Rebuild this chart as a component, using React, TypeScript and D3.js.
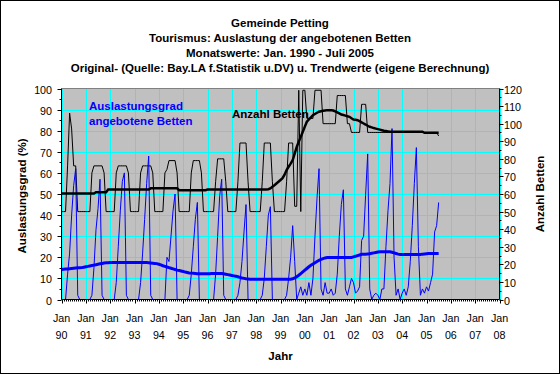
import * as d3 from 'd3';

const TITLE_LINES = [
  'Gemeinde Petting',
  'Tourismus: Auslastung der angebotenen Betten',
  'Monatswerte: Jan. 1990 - Juli 2005',
  'Original- (Quelle: Bay.LA f.Statistik u.DV) u. Trendwerte (eigene Berechnung)',
];

// x axis: one label pair per January, 1990 .. 2008
const YEAR_LABELS = ['90', '91', '92', '93', '94', '95', '96', '97', '98', '99', '00', '01', '02', '03', '04', '05', '06', '07', '08'];

// Auslastungsgrad (%), monthly Jan 1990 - Jul 2005
const AUSLASTUNG = [
  0, 0, 0, 12, 22, 40, 54, 62, 2, 0, 0, 0, // 1990
  0, 0, 0, 2, 15, 33, 43, 57, 2, 0, 0, 0, // 1991
  0, 0, 0, 8, 25, 42, 56, 60, 2, 0, 0, 0, // 1992
  0, 0, 0, 8, 22, 38, 55, 68, 2, 0, 0, 0, // 1993
  0, 0, 0, 0, 20, 18, 30, 42, 50, 0, 0, 0, // 1994
  0, 0, 0, 2, 12, 25, 38, 46, 0, 0, 0, 0, // 1995
  0, 0, 0, 0, 12, 30, 49, 57, 2, 0, 0, 0, // 1996
  0, 0, 0, 2, 8, 18, 32, 45, 0, 0, 0, 0, // 1997
  0, 0, 0, 2, 10, 25, 40, 44, 0, 0, 0, 0, // 1998
  0, 0, 0, 2, 10, 20, 35, 18, 0, 3, 6, 2, // 1999
  5, 2, 8, 2, 10, 30, 48, 62, 5, 2, 8, 3, // 2000
  3, 5, 2, 3, 12, 30, 45, 52, 5, 2, 6, 10, // 2001
  8, 3, 4, 6, 28, 30, 50, 69, 5, 0, 2, 3, // 2002
  2, 0, 5, 5, 25, 42, 55, 81, 20, 2, 5, 0, // 2003
  3, 5, 2, 6, 18, 35, 55, 72, 25, 2, 5, 3, // 2004
  6, 4, 8, 12, 32, 35, 46, // 2005
];

// Trend of Auslastungsgrad (%)
const AUSLASTUNG_TREND = [
  14.2, 14.3, 14.4, 14.5, 14.6, 14.7, 14.8, 14.9, 15.0, 15.0, 15.1, 15.3,
  15.5, 15.7, 15.9, 16.1, 16.3, 16.5, 16.7, 16.9, 17.1, 17.3, 17.4, 17.4,
  17.5, 17.5, 17.5, 17.5, 17.5, 17.5, 17.5, 17.5, 17.5, 17.5, 17.5, 17.5,
  17.5, 17.5, 17.5, 17.5, 17.5, 17.5, 17.5, 17.4, 17.3, 17.2, 17.1, 17.0,
  16.7, 16.4, 16.0, 15.7, 15.4, 15.1, 14.8, 14.5, 14.2, 13.9, 13.7, 13.5,
  13.3, 13.0, 12.8, 12.6, 12.5, 12.4, 12.3, 12.2, 12.2, 12.2, 12.2, 12.2,
  12.2, 12.2, 12.3, 12.3, 12.3, 12.3, 12.3, 12.3, 12.2, 12.0, 11.8, 11.6,
  11.4, 11.2, 11.0, 10.8, 10.5, 10.2, 10.0, 9.8, 9.7, 9.6, 9.6, 9.6,
  9.6, 9.6, 9.6, 9.6, 9.6, 9.6, 9.6, 9.6, 9.6, 9.6, 9.6, 9.6,
  9.6, 9.6, 9.6, 9.6, 9.6, 9.6, 9.8, 10.2, 10.8, 11.5, 12.3, 13.1,
  13.9, 14.7, 15.5, 16.2, 16.8, 17.4, 18.0, 18.6, 19.0, 19.4, 19.7, 19.9,
  19.9, 19.9, 19.9, 19.9, 19.9, 19.9, 19.9, 19.9, 19.9, 19.9, 19.9, 19.9,
  20.2, 20.5, 20.8, 21.1, 21.4, 21.5, 21.5, 21.6, 21.7, 21.9, 22.1, 22.3,
  22.5, 22.6, 22.6, 22.6, 22.6, 22.6, 22.6, 22.4, 22.1, 21.8, 21.5, 21.3,
  21.3, 21.3, 21.3, 21.3, 21.3, 21.3, 21.3, 21.3, 21.3, 21.3, 21.5, 21.6,
  21.7, 21.8, 21.8, 21.8, 21.8, 21.8, 21.8,
];

// Anzahl angebotene Betten, monthly
const BETTEN = [
  50, 50, 50, 76, 106, 97, 76, 76, 50, 50, 50, 50, // 1990
  50, 50, 50, 72, 76, 76, 76, 76, 76, 72, 50, 50, // 1991
  50, 50, 50, 72, 76, 76, 76, 76, 76, 72, 50, 50, // 1992
  50, 50, 50, 72, 76, 76, 76, 76, 76, 72, 50, 50, // 1993
  50, 50, 50, 72, 74, 79, 79, 79, 79, 72, 50, 50, // 1994
  50, 50, 50, 50, 72, 79, 79, 79, 79, 72, 50, 50, // 1995
  50, 50, 50, 50, 67, 80, 80, 80, 80, 67, 50, 50, // 1996
  50, 50, 50, 67, 89, 89, 89, 89, 67, 50, 50, 50, // 1997
  50, 50, 50, 67, 89, 89, 89, 89, 67, 50, 50, 50, // 1998
  50, 50, 50, 67, 89, 89, 89, 53, 53, 119, 50, 119, // 1999
  119, 103, 103, 103, 103, 119, 119, 119, 119, 100, 100, 100, // 2000
  100, 100, 100, 100, 116, 116, 116, 116, 116, 100, 100, 95, // 2001
  95, 95, 95, 95, 111, 111, 111, 95, 95, 95, 95, 95, // 2002
  95, 95, 95, 95, 95, 95, 95, 95, 95, 95, 95, 95, // 2003
  95, 95, 95, 95, 95, 95, 95, 95, 95, 95, 95, 95, // 2004
  95, 95, 95, 95, 95, 95, 93, // 2005
];

// Trend of Anzahl Betten
const BETTEN_TREND = [
  60.3, 60.3, 60.3, 60.3, 60.3, 60.3, 60.3, 60.3, 60.3, 60.3, 60.3, 60.3,
  60.3, 60.3, 60.3, 60.3, 60.3, 61, 61, 61, 61, 61, 61, 62.5,
  62.5, 62.5, 62.5, 62.5, 62.5, 62.5, 62.5, 62.5, 62.5, 62.5, 62.5, 62.5,
  62.5, 62.5, 62.5, 62.5, 62.5, 62.5, 62.5, 62.5, 63.2, 63.2, 63.2, 63.2,
  63.2, 63.2, 63.2, 63.2, 63.2, 63.2, 63.2, 63.2, 63.2, 63.2, 62.2, 62.2,
  62.2, 62.2, 62.2, 62.2, 62.2, 62.2, 62.2, 62.2, 62.2, 62.2, 62.2, 62.2,
  62.5, 62.5, 62.5, 62.5, 62.5, 62.5, 62.5, 62.5, 62.5, 62.5, 62.5, 62.5,
  62.5, 62.5, 62.5, 62.5, 62.5, 62.5, 62.5, 62.5, 62.5, 62.5, 62.5, 62.5,
  62.5, 62.5, 62.5, 62.5, 62.5, 62.5, 62.7, 63.2, 64.1, 65, 66, 67,
  68, 69, 71, 73.6, 75.5, 77.3, 79.2, 83, 86.8, 89.7, 92.5, 95.4,
  98.3, 101.1, 102.4, 103.6, 104.8, 105.5, 106.2, 106.8, 107.1, 107.3, 107.5, 107.7,
  107.7, 107.6, 107.5, 107, 106.4, 105.8, 105.2, 104.9, 104.6, 104.2, 103.9, 103.1,
  102.4, 102.2, 102, 101.4, 100.7, 100.1, 99.5, 98.8, 98.2, 97.9, 97.5, 97.2,
  96.9, 96.6, 96.3, 96.0, 95.8, 95.6, 95.4, 95.4, 95.4, 95.4, 95.4, 95.4,
  95.4, 95.4, 95.4, 95.4, 95.4, 95.4, 95.4, 95.4, 95.4, 95.4, 95.4, 94.8,
  94.8, 94.8, 94.8, 94.8, 94.8, 94.8, 94.8,
];

const W = 560;
const H = 374;
const PLOT = { left: 61.5, right: 499.5, top: 88.5, bottom: 299.5 };
const FONT = 'Arial, "Liberation Sans", sans-serif';
const GRID = '#00ffff';
const BLUE = '#0000ff';

export default function App() {
  const nMonths = (YEAR_LABELS.length - 1) * 12;
  const x = d3.scaleLinear().domain([0, nMonths]).range([PLOT.left, PLOT.right]);
  const yL = d3.scaleLinear().domain([0, 100]).range([PLOT.bottom, PLOT.top]);
  const yR = d3.scaleLinear().domain([0, 120]).range([PLOT.bottom, PLOT.top]);

  const lineL = d3.line<number>().x((_, i) => x(i)).y((d) => yL(d));
  const lineR = d3.line<number>().x((_, i) => x(i)).y((d) => yR(d));

  const leftTicks = yL.ticks(10);
  const rightTicks = yR.ticks(12);
  const months = d3.range(0, nMonths + 1);

  return (
    <svg width={W} height={H} style={{ position: 'absolute', left: 0, top: 0 }} fontFamily={FONT}>
      <rect x={0.5} y={0.5} width={W - 1} height={H - 1} fill="#fff" stroke="#000" />

      {/* titles */}
      {TITLE_LINES.map((t, i) => (
        <text key={t} x={280} y={27 + i * 15} textAnchor="middle" fontSize={11.5} fontWeight="bold">
          {t}
        </text>
      ))}

      {/* plot area */}
      <rect x={PLOT.left} y={PLOT.top} width={PLOT.right - PLOT.left} height={PLOT.bottom - PLOT.top} fill="#c0c0c0" />

      {/* grid */}
      {leftTicks.filter((t) => t > 0 && t < 100).map((t) => (
        <line key={'h' + t} x1={PLOT.left} x2={PLOT.right} y1={Math.round(yL(t)) + 0.5} y2={Math.round(yL(t)) + 0.5} stroke={GRID} />
      ))}
      {YEAR_LABELS.map((_, k) => (
        <line key={'v' + k} x1={Math.round(x(k * 12)) + 0.5} x2={Math.round(x(k * 12)) + 0.5} y1={PLOT.top} y2={PLOT.bottom} stroke={GRID} />
      ))}
      <line x1={PLOT.left} x2={PLOT.right} y1={PLOT.top} y2={PLOT.top} stroke="#808080" />

      {/* series */}
      <path d={lineR(BETTEN) ?? ''} fill="none" stroke="#000" strokeWidth={1} />
      <path d={lineL(AUSLASTUNG) ?? ''} fill="none" stroke={BLUE} strokeWidth={1} />
      <path d={lineL(AUSLASTUNG_TREND) ?? ''} fill="none" stroke={BLUE} strokeWidth={3} />
      <path d={lineR(BETTEN_TREND) ?? ''} fill="none" stroke="#000" strokeWidth={2.5} />

      {/* series labels */}
      <text x={89} y={110} fontSize={11.5} fontWeight="bold" fill={BLUE}>Auslastungsgrad</text>
      <text x={89} y={125} fontSize={11.5} fontWeight="bold" fill={BLUE}>angebotene Betten</text>
      <text x={232} y={118} fontSize={11.5} fontWeight="bold" fill="#000">Anzahl Betten</text>

      {/* axes */}
      <line x1={PLOT.left} x2={PLOT.left} y1={PLOT.top} y2={PLOT.bottom} stroke="#000" />
      <line x1={PLOT.right} x2={PLOT.right} y1={PLOT.top} y2={PLOT.bottom} stroke="#000" />
      <line x1={PLOT.left} x2={PLOT.right} y1={PLOT.bottom} y2={PLOT.bottom} stroke="#000" />

      {/* left ticks + labels */}
      {leftTicks.map((t) => {
        const yy = Math.round(yL(t)) + 0.5;
        return (
          <g key={'lt' + t}>
            <line x1={PLOT.left - 4} x2={PLOT.left} y1={yy} y2={yy} stroke="#000" />
            <text x={52} y={yy} textAnchor="end" dominantBaseline="central" fontSize={10.7}>{t}</text>
          </g>
        );
      })}
      {leftTicks.slice(0, -1).map((t) => {
        const yy = Math.round(yL(t + 5)) + 0.5;
        return <line key={'lm' + t} x1={PLOT.left - 2} x2={PLOT.left} y1={yy} y2={yy} stroke="#000" />;
      })}

      {/* right ticks + labels */}
      {rightTicks.map((t) => {
        const yy = Math.round(yR(t)) + 0.5;
        return (
          <g key={'rt' + t}>
            <line x1={PLOT.right} x2={PLOT.right + 4} y1={yy} y2={yy} stroke="#000" />
            <text x={504} y={yy} textAnchor="start" dominantBaseline="central" fontSize={10.7}>{t}</text>
          </g>
        );
      })}
      {rightTicks.slice(0, -1).map((t) => {
        const yy = Math.round(yR(t + 5)) + 0.5;
        return <line key={'rm' + t} x1={PLOT.right} x2={PLOT.right + 2} y1={yy} y2={yy} stroke="#000" />;
      })}

      {/* x ticks */}
      {months.map((m) => {
        const xx = Math.round(x(m)) + 0.5;
        const major = m % 12 === 0;
        return <line key={'xt' + m} x1={xx} x2={xx} y1={PLOT.bottom} y2={PLOT.bottom + (major ? 4 : 2)} stroke="#000" />;
      })}
      {YEAR_LABELS.map((lab, k) => (
        <g key={'xl' + k}>
          <text x={x(k * 12)} y={322} textAnchor="middle" fontSize={10.7}>Jan</text>
          <text x={x(k * 12)} y={339} textAnchor="middle" fontSize={10.7}>{lab}</text>
        </g>
      ))}

      {/* axis titles */}
      <text x={280.5} y={360} textAnchor="middle" fontSize={11.5} fontWeight="bold">Jahr</text>
      <text transform="translate(22,196) rotate(-90)" textAnchor="middle" dominantBaseline="central" fontSize={11.5} fontWeight="bold">
        Auslastungsgrad (%)
      </text>
      <text transform="translate(540,194) rotate(-90)" textAnchor="middle" dominantBaseline="central" fontSize={11.5} fontWeight="bold">
        Anzahl Betten
      </text>
    </svg>
  );
}
